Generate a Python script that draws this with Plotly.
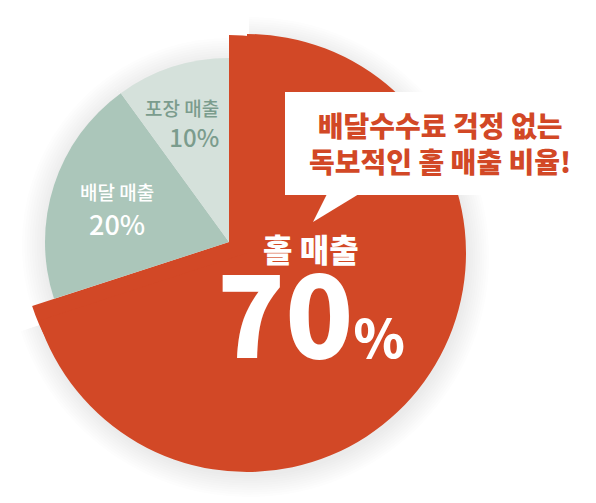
import plotly.graph_objects as go

W, H = 596, 503
OFF = 8  # page body margin pushes the figure 8px right and down

labels = ['홀 매출', '배달 매출', '포장 매출']
shares = [70, 20, 10]
share_text = ['70%', '20%', '10%']
colors = ['#d24826', '#abc6ba', '#d5e1db']
clear = 'rgba(0,0,0,0)'

callout = '배달수수료 걱정 없는<br>독보적인 홀 매출 비율!'


def px_x(x):
    return (x - OFF) / W


def px_y(y):
    return 1 - (y - OFF) / H


def dom(cx, cy, r):
    return dict(x=[max(0, px_x(cx - r)), min(1, px_x(cx + r))],
                y=[max(0, px_y(cy + r)), min(1, px_y(cy - r))])


def pie(cx, cy, r, cols):
    return go.Pie(labels=labels, values=shares, sort=False, direction='clockwise',
                  rotation=0, domain=dom(cx, cy, r), textinfo='none',
                  marker=dict(colors=cols, line=dict(width=0)),
                  hoverinfo='skip', showlegend=False)


fig = go.Figure()

# soft shadow, many faint rings drawn first
for k in range(1, 11):
    sh = 'rgba(60,60,60,0.011)'
    fig.add_trace(pie(229, 245, 182 + 2.5 * k, [clear, sh, sh]))
    fig.add_trace(pie(249, 257, 217 + 2.3 * k, [sh, clear, clear]))

# big red slice: inner part + outer arc
fig.add_trace(pie(229, 242, 207, [colors[0], clear, clear]))
fig.add_trace(pie(247, 253, 219, [colors[0], clear, clear]))
# the two green slices
fig.add_trace(pie(229, 242, 184, [clear, colors[1], colors[2]]))

shapes = [
    dict(type='rect', xref='paper', yref='paper', x0=px_x(285), x1=px_x(590),
         y0=px_y(195), y1=px_y(92), fillcolor='white', line=dict(width=0), layer='above'),
    dict(type='path', xref='paper', yref='paper',
         path='M %f,%f L %f,%f L %f,%f Z' % (px_x(327), px_y(194), px_x(359), px_y(194),
                                             px_x(313), px_y(222)),
         fillcolor='white', line=dict(width=0), layer='above'),
]

kfont = 'Noto Sans CJK KR'


def note(text, x, y, size, color, weight=400, xanchor='center'):
    return dict(text=text, x=px_x(x), y=px_y(y), xref='paper', yref='paper',
                xanchor=xanchor, yanchor='middle', align=xanchor if xanchor != 'center' else 'center',
                showarrow=False,
                font=dict(family=kfont, size=size, color=color, weight=weight))


def sp(text, size):
    return "<span style='font-size:%dpx'>%s</span>" % (size, text)


annotations = [
    note(sp(labels[2], 19) + '<br>' + share_text[2], 221, 124, 24, '#7b9c8d', 500, 'right'),
    note(sp(labels[1], 19) + '<br>' + share_text[1], 117, 210, 27, 'white', 500),
    note(sp(labels[0], 32) + '<br>' + sp(share_text[0][:-1], 112) + sp('%', 52),
         311, 307, 74, 'white', 900),
    note(callout, 440, 143, 28, colors[0], 900),
]

fig.update_layout(width=W, height=H, autosize=False,
                  margin=dict(l=0, r=0, t=0, b=0),
                  paper_bgcolor='white', plot_bgcolor='white',
                  shapes=shapes, annotations=annotations)

fig.write_html("out.html")
